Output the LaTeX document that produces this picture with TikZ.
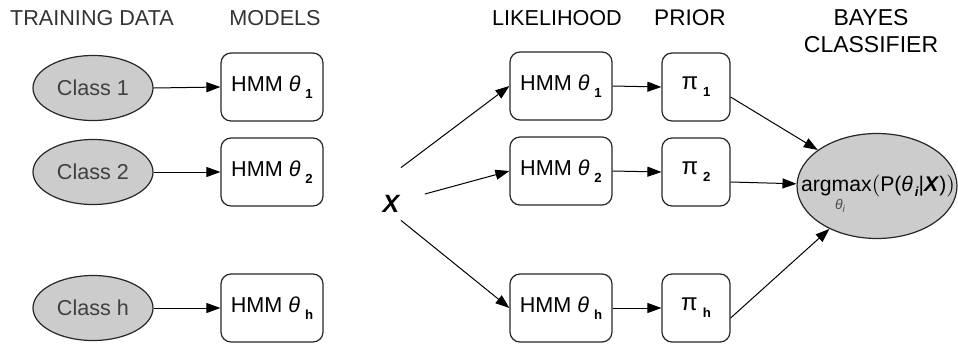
\documentclass[tikz,border=0pt]{standalone}
\usepackage{fontspec}
\setmainfont{Liberation Sans}
\usetikzlibrary{arrows.meta,shapes.geometric}
\newcommand{\lsub}[1]{\hspace{2.5pt}\raisebox{-0.6ex}{\fontsize{6.6}{7}\selectfont\bfseries #1}}
\newcommand{\hmmlabel}[1]{HMM \textit{θ}\lsub{#1}}
\newcommand{\priorlabel}[1]{{\fontsize{12}{12}\selectfont π}\lsub{#1}}
\begin{document}
\begin{tikzpicture}[x=0.5pt,y=-0.5pt,
    font=\fontsize{10.8}{13}\selectfont,
    title/.style={text=black!80},
    classnode/.style={ellipse,draw=black!85,fill=black!20,line width=0.6pt,
        minimum width=60pt,minimum height=32.5pt,inner sep=0pt,text=black!75},
    hmmbox/.style={rectangle,rounded corners=5pt,draw=black!85,line width=0.6pt,
        minimum width=51pt,minimum height=34pt,inner sep=0pt},
    priorbox/.style={hmmbox,minimum width=34pt},
    link/.style={-{Triangle[length=7pt,width=5pt]},line width=0.5pt}]
        \useasboundingbox (0,0) rectangle (958,343);
        %%Titles
        \node[title] (tdata) at (92,18) {TRAINING DATA};
        \node[title] (tmodels) at (275,18) {MODELS};
        \node (tlike) at (557,18) {LIKELIHOOD};
        \node[font=\fontsize{11.3}{13}\selectfont] (tprior) at (690,18) {PRIOR};
        \node[align=center,font=\fontsize{11.5}{13.5}\selectfont] (tbayes) at (871,31) {BAYES\\CLASSIFIER};
        %%Training data and models
        \node[classnode] (C1) at (93,88) {Class 1};
        \node[classnode] (C2) at (93,172) {Class 2};
        \node[classnode] (Ch) at (93,308) {Class h};
        \node[hmmbox] (M1) at (272,87) {\hmmlabel{1}};
        \node[hmmbox] (M2) at (272,172) {\hmmlabel{2}};
        \node[hmmbox] (Mh) at (272,308) {\hmmlabel{h}};
        \draw[link] (C1.east) -- (M1.west);
        \draw[link] (C2.east) -- (M2.west);
        \draw[link] (Ch.east) -- (Mh.west);
        %%Likelihood
        \node[minimum width=23.5pt,minimum height=26pt,inner sep=0pt,
            font=\fontsize{12.5}{14}\selectfont\bfseries\itshape] (X) at (401,194)
            {\smash{\raisebox{-9pt}{X}}\kern10pt\relax};
        \node[hmmbox] (L1) at (561,86) {\hmmlabel{1}};
        \node[hmmbox] (L2) at (561,171) {\hmmlabel{2}};
        \node[hmmbox] (Lh) at (561,308) {\hmmlabel{h}};
        \draw[link] (X.north) -- (L1.west);
        \draw[link] (X.east) -- (L2.west);
        \draw[link] (X.south) -- (Lh.west);
        %%Prior
        \node[priorbox] (P1) at (696,87) {\priorlabel{1}};
        \node[priorbox] (P2) at (696,172) {\priorlabel{2}};
        \node[priorbox] (Ph) at (696,308) {\priorlabel{h}};
        \draw[link] (L1.east) -- (P1.west);
        \draw[link] (L2.east) -- (P2.west);
        \draw[link] (Lh.east) -- (Ph.west);
        %%Bayes classifier
        \node[classnode,minimum width=80pt,minimum height=52.5pt] (B) at (877,186) {};
        \node[inner sep=0pt,font=\fontsize{10.6}{13}\selectfont] (Btext) at (878,186)
            {\rlap{\smash{\raisebox{-1.6ex}{\hspace{1.6em}\fontsize{7}{7}\selectfont\textcolor{black!70}{\textit{θ}\textsubscript{\textit{i}}}}}}argmax$\big($P(\textit{θ}\hspace{1pt}\raisebox{-0.4ex}{\fontsize{6.6}{7}\selectfont\bfseries\itshape i}|\textbf{\textit{X}})$\big)$};
        \draw[link] ([yshift=-5pt]P1.east) -- (B);
        \draw[link] ([yshift=-5pt]P2.east) -- (B);
        \draw[link] ([yshift=-5pt]Ph.east) -- (B);
    \end{tikzpicture}
\end{document}
